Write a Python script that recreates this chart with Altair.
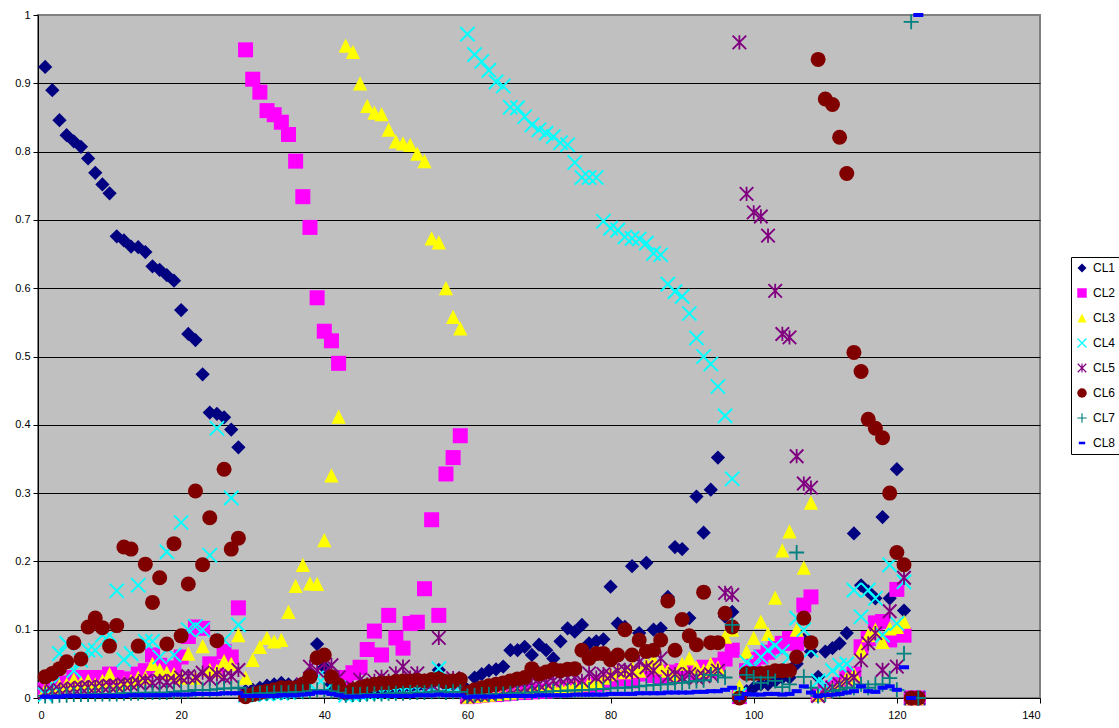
import altair as alt
import pandas as pd

# Observation index (x axis)
x_index = list(range(1, 124))

series_names = ["CL1", "CL2", "CL3", "CL4", "CL5", "CL6", "CL7", "CL8"]
series_colors = ["#000080", "#FF00FF", "#FFFF00", "#00FFFF",
                 "#800080", "#800000", "#008080", "#0000FF"]

# Membership values per cluster, one entry per observation
cl1 = [0.924, 0.890, 0.846, 0.824, 0.815, 0.807, 0.790, 0.769, 0.752, 0.739,
       0.676, 0.670, 0.661, 0.660, 0.653, 0.632, 0.627, 0.619, 0.611, 0.568,
       0.533, 0.524, 0.474, 0.418, 0.416, 0.411, 0.393, 0.367, 0.010, 0.012,
       0.015, 0.018, 0.020, 0.022, 0.020, 0.018, 0.022, 0.035, 0.079, 0.045,
       0.020, 0.012, 0.005, 0.008, 0.010, 0.012, 0.012, 0.013, 0.014, 0.015,
       0.016, 0.016, 0.017, 0.018, 0.020, 0.041, 0.018, 0.020, 0.022, 0.012,
       0.030, 0.035, 0.040, 0.042, 0.046, 0.070, 0.070, 0.075, 0.063, 0.078,
       0.070, 0.058, 0.083, 0.102, 0.097, 0.107, 0.080, 0.083, 0.086, 0.163,
       0.109, 0.104, 0.193, 0.095, 0.198, 0.100, 0.102, 0.148, 0.221, 0.218,
       0.117, 0.295, 0.242, 0.305, 0.352, 0.119, 0.126, 0.003, 0.010, 0.015,
       0.020, 0.020, 0.025, 0.030, 0.030, 0.050, 0.085, 0.068, 0.031, 0.068,
       0.073, 0.080, 0.095, 0.241, 0.165, 0.156, 0.146, 0.265, 0.146, 0.335,
       0.128, 0.000, 0.000]

cl2 = [0.012, 0.015, 0.020, 0.022, 0.030, 0.025, 0.030, 0.028, 0.030, 0.035,
       0.030, 0.025, 0.028, 0.035, 0.040, 0.063, 0.048, 0.040, 0.044, 0.060,
       0.090, 0.104, 0.102, 0.050, 0.045, 0.068, 0.060, 0.132, 0.949, 0.906,
       0.887, 0.860, 0.854, 0.843, 0.825, 0.786, 0.734, 0.689, 0.586, 0.537,
       0.523, 0.490, 0.030, 0.037, 0.045, 0.071, 0.098, 0.063, 0.121, 0.088,
       0.073, 0.109, 0.111, 0.160, 0.261, 0.121, 0.328, 0.352, 0.384, 0.002,
       0.003, 0.004, 0.005, 0.005, 0.006, 0.007, 0.008, 0.008, 0.009, 0.010,
       0.010, 0.012, 0.012, 0.014, 0.015, 0.016, 0.018, 0.020, 0.022, 0.025,
       0.028, 0.030, 0.025, 0.035, 0.036, 0.033, 0.030, 0.038, 0.035, 0.040,
       0.040, 0.035, 0.045, 0.040, 0.048, 0.057, 0.070, 0.002, 0.040, 0.056,
       0.060, 0.067, 0.075, 0.080, 0.087, 0.080, 0.136, 0.148, 0.005, 0.010,
       0.015, 0.020, 0.030, 0.035, 0.075, 0.087, 0.110, 0.112, 0.085, 0.159,
       0.092, 0.000, 0.000]

cl3 = [0.012, 0.015, 0.018, 0.020, 0.027, 0.022, 0.025, 0.020, 0.025, 0.035,
       0.020, 0.022, 0.025, 0.030, 0.030, 0.050, 0.041, 0.037, 0.035, 0.030,
       0.065, 0.030, 0.076, 0.041, 0.040, 0.054, 0.050, 0.092, 0.030, 0.056,
       0.075, 0.088, 0.083, 0.085, 0.126, 0.164, 0.195, 0.168, 0.167, 0.231,
       0.326, 0.412, 0.955, 0.946, 0.900, 0.867, 0.857, 0.855, 0.832, 0.815,
       0.812, 0.810, 0.797, 0.786, 0.673, 0.667, 0.600, 0.558, 0.541, 0.002,
       0.003, 0.004, 0.005, 0.006, 0.007, 0.008, 0.010, 0.010, 0.012, 0.012,
       0.013, 0.014, 0.015, 0.016, 0.018, 0.020, 0.022, 0.025, 0.030, 0.035,
       0.040, 0.038, 0.045, 0.040, 0.050, 0.055, 0.045, 0.040, 0.035, 0.050,
       0.058, 0.045, 0.040, 0.050, 0.045, 0.090, 0.100, 0.017, 0.068, 0.088,
       0.112, 0.094, 0.147, 0.216, 0.244, 0.100, 0.191, 0.286, 0.005, 0.010,
       0.015, 0.020, 0.030, 0.035, 0.070, 0.092, 0.100, 0.082, 0.102, 0.104,
       0.112, 0.000, 0.000]

cl4 = [0.005, 0.020, 0.065, 0.080, 0.040, 0.055, 0.070, 0.070, 0.092, 0.092,
       0.157, 0.056, 0.065, 0.165, 0.083, 0.083, 0.060, 0.214, 0.063, 0.257,
       0.100, 0.105, 0.100, 0.209, 0.395, 0.085, 0.293, 0.107, 0.004, 0.005,
       0.006, 0.006, 0.007, 0.007, 0.008, 0.010, 0.012, 0.020, 0.030, 0.030,
       0.020, 0.015, 0.004, 0.005, 0.006, 0.007, 0.008, 0.008, 0.009, 0.010,
       0.010, 0.011, 0.012, 0.012, 0.015, 0.043, 0.015, 0.018, 0.020, 0.972,
       0.942, 0.932, 0.919, 0.902, 0.896, 0.865, 0.864, 0.851, 0.839, 0.832,
       0.827, 0.822, 0.813, 0.810, 0.784, 0.762, 0.762, 0.762, 0.698, 0.688,
       0.685, 0.675, 0.673, 0.672, 0.666, 0.651, 0.649, 0.606, 0.595, 0.588,
       0.563, 0.527, 0.500, 0.489, 0.456, 0.413, 0.321, 0.005, 0.052, 0.045,
       0.060, 0.070, 0.077, 0.068, 0.060, 0.117, 0.100, 0.070, 0.025, 0.020,
       0.040, 0.048, 0.050, 0.158, 0.119, 0.158, 0.146, 0.092, 0.195, 0.109,
       0.170, 0.000, 0.000]

cl5 = [0.008, 0.010, 0.012, 0.013, 0.014, 0.015, 0.016, 0.016, 0.017, 0.018,
       0.018, 0.020, 0.020, 0.022, 0.025, 0.022, 0.025, 0.023, 0.025, 0.030,
       0.032, 0.030, 0.037, 0.028, 0.035, 0.030, 0.032, 0.041, 0.005, 0.006,
       0.008, 0.009, 0.010, 0.010, 0.012, 0.015, 0.020, 0.046, 0.040, 0.050,
       0.048, 0.030, 0.008, 0.015, 0.027, 0.020, 0.025, 0.031, 0.025, 0.036,
       0.046, 0.030, 0.036, 0.025, 0.020, 0.088, 0.025, 0.029, 0.022, 0.002,
       0.004, 0.005, 0.006, 0.008, 0.010, 0.012, 0.014, 0.015, 0.018, 0.020,
       0.022, 0.025, 0.028, 0.030, 0.030, 0.025, 0.036, 0.030, 0.035, 0.033,
       0.040, 0.041, 0.038, 0.053, 0.045, 0.040, 0.058, 0.031, 0.035, 0.030,
       0.035, 0.030, 0.032, 0.035, 0.040, 0.154, 0.151, 0.960, 0.738, 0.711,
       0.705, 0.677, 0.596, 0.533, 0.528, 0.354, 0.314, 0.308, 0.003, 0.010,
       0.015, 0.020, 0.025, 0.030, 0.055, 0.080, 0.095, 0.041, 0.127, 0.046,
       0.176, 0.000, 0.000]

cl6 = [0.031, 0.036, 0.043, 0.053, 0.081, 0.057, 0.104, 0.117, 0.103, 0.076,
       0.106, 0.221, 0.218, 0.076, 0.196, 0.140, 0.176, 0.079, 0.226, 0.091,
       0.167, 0.303, 0.195, 0.264, 0.084, 0.335, 0.218, 0.234, 0.002, 0.005,
       0.008, 0.010, 0.012, 0.015, 0.015, 0.015, 0.020, 0.031, 0.059, 0.063,
       0.031, 0.019, 0.008, 0.012, 0.015, 0.018, 0.020, 0.022, 0.022, 0.024,
       0.025, 0.025, 0.026, 0.025, 0.027, 0.028, 0.024, 0.025, 0.027, 0.008,
       0.012, 0.015, 0.018, 0.020, 0.022, 0.025, 0.028, 0.030, 0.043, 0.035,
       0.038, 0.042, 0.040, 0.042, 0.043, 0.070, 0.058, 0.065, 0.065, 0.056,
       0.063, 0.100, 0.063, 0.085, 0.068, 0.070, 0.085, 0.142, 0.070, 0.115,
       0.091, 0.078, 0.155, 0.081, 0.081, 0.124, 0.104, 0.000, 0.036, 0.036,
       0.036, 0.037, 0.040, 0.040, 0.040, 0.060, 0.117, 0.081, 0.935, 0.877,
       0.869, 0.821, 0.768, 0.506, 0.478, 0.408, 0.395, 0.381, 0.300, 0.213,
       0.195, 0.000, 0.000]

cl7 = [0.003, 0.003, 0.004, 0.004, 0.005, 0.005, 0.005, 0.006, 0.006, 0.006,
       0.006, 0.007, 0.007, 0.007, 0.008, 0.008, 0.008, 0.008, 0.009, 0.010,
       0.010, 0.012, 0.012, 0.012, 0.013, 0.014, 0.014, 0.015, 0.006, 0.006,
       0.007, 0.007, 0.008, 0.008, 0.008, 0.009, 0.009, 0.010, 0.012, 0.012,
       0.010, 0.008, 0.004, 0.005, 0.005, 0.006, 0.006, 0.006, 0.007, 0.007,
       0.007, 0.008, 0.008, 0.008, 0.009, 0.010, 0.008, 0.009, 0.009, 0.003,
       0.004, 0.005, 0.005, 0.006, 0.006, 0.007, 0.007, 0.008, 0.008, 0.009,
       0.009, 0.010, 0.010, 0.011, 0.011, 0.012, 0.012, 0.013, 0.013, 0.014,
       0.015, 0.015, 0.016, 0.017, 0.018, 0.019, 0.020, 0.020, 0.022, 0.022,
       0.024, 0.025, 0.026, 0.034, 0.033, 0.030, 0.107, 0.005, 0.034, 0.030,
       0.022, 0.030, 0.025, 0.016, 0.020, 0.213, 0.031, 0.015, 0.003, 0.005,
       0.010, 0.012, 0.015, 0.015, 0.020, 0.015, 0.020, 0.020, 0.029, 0.012,
       0.065, 0.990, 0.000]

cl8 = [0.002, 0.002, 0.002, 0.003, 0.003, 0.003, 0.003, 0.003, 0.003, 0.003,
       0.003, 0.003, 0.004, 0.004, 0.004, 0.004, 0.004, 0.004, 0.005, 0.005,
       0.005, 0.006, 0.006, 0.006, 0.006, 0.007, 0.007, 0.007, 0.003, 0.003,
       0.003, 0.003, 0.003, 0.004, 0.004, 0.004, 0.005, 0.006, 0.008, 0.008,
       0.006, 0.004, 0.002, 0.002, 0.002, 0.003, 0.003, 0.003, 0.003, 0.003,
       0.003, 0.003, 0.004, 0.004, 0.004, 0.005, 0.004, 0.004, 0.004, 0.001,
       0.002, 0.002, 0.002, 0.002, 0.003, 0.003, 0.003, 0.003, 0.003, 0.004,
       0.004, 0.004, 0.004, 0.004, 0.005, 0.005, 0.005, 0.005, 0.005, 0.006,
       0.006, 0.006, 0.006, 0.007, 0.007, 0.007, 0.007, 0.008, 0.008, 0.008,
       0.008, 0.009, 0.009, 0.010, 0.010, 0.012, 0.015, 0.000, 0.006, 0.005,
       0.005, 0.006, 0.006, 0.005, 0.006, 0.010, 0.017, 0.008, 0.003, 0.004,
       0.005, 0.006, 0.008, 0.010, 0.017, 0.010, 0.009, 0.015, 0.017, 0.012,
       0.045, 0.000, 1.000]

all_series = [cl1, cl2, cl3, cl4, cl5, cl6, cl7, cl8]
for vals in all_series:
    assert len(vals) == len(x_index), len(vals)

# Marker outlines in a [-1, 1] box (Vega scales them by sqrt(size) / 2)
x_cross = ("M-0.858,-1.042L1.042,0.858L0.858,1.042L-1.042,-0.858Z"
           "M-0.858,1.042L-1.042,0.858L0.858,-1.042L1.042,-0.858Z")
asterisk = ("M-0.81,-0.99L0.99,0.81L0.81,0.99L-0.99,-0.81Z"
            "M-0.81,0.99L-0.99,0.81L0.81,-0.99L0.99,-0.81Z"
            "M-0.12,-0.95L0.12,-0.95L0.12,0.95L-0.12,0.95Z")
plus = ("M-1,-0.12L1,-0.12L1,0.12L-1,0.12Z"
        "M-0.12,-1L0.12,-1L0.12,1L-0.12,1Z")
series_shapes = [
    "M0,-0.95L0.95,0L0,0.95L-0.95,0Z",          # diamond
    "M-1,-1L1,-1L1,1L-1,1Z",                     # square
    "M0,-0.95L0.95,0.95L-0.95,0.95Z",            # triangle
    x_cross,                                     # x
    asterisk,                                    # star
    "circle",                                    # circle
    plus,                                        # plus
    "M-0.67,-0.27L0.67,-0.27L0.67,0.27L-0.67,0.27Z",  # dash
]

rows = []
for name, vals in zip(series_names, all_series):
    for xi, v in zip(x_index, vals):
        rows.append({"x": xi, "value": v, "series": name})
df = pd.DataFrame(rows)

font = "Liberation Sans"

legend = alt.Legend(
    title=None,
    orient="none",
    legendX=1033,
    legendY=242,
    strokeColor="#000000",
    fillColor="#FFFFFF",
    padding=5,
    rowPadding=13,
    symbolSize=90,
    symbolStrokeWidth=0,
    symbolOpacity=1,
    labelFont=font,
    labelFontSize=12,
    labelColor="#000000",
    labelOffset=5,
)

y_ticks = [round(i * 0.1, 1) for i in range(11)]

chart = alt.Chart(df).mark_point(filled=True, opacity=1, size=225).encode(
    x=alt.X(
        "x:Q",
        scale=alt.Scale(domain=[0, 140], nice=False, zero=False),
        axis=alt.Axis(
            values=list(range(0, 141, 20)),
            title=None,
            grid=False,
            domainColor="#000000",
            tickColor="#000000",
            tickSize=5,
            labelFont=font,
            labelFontSize=11,
            labelColor="#000000",
            labelPadding=6,
        ),
    ),
    y=alt.Y(
        "value:Q",
        scale=alt.Scale(domain=[0, 1], nice=False),
        axis=alt.Axis(
            values=y_ticks,
            format=".1~f",
            title=None,
            grid=True,
            gridColor={"condition": {"test": "datum.value >= 1", "value": "#808080"},
                       "value": "#000000"},
            gridWidth=1,
            domainColor="#000000",
            tickColor="#000000",
            tickSize=5,
            labelFont=font,
            labelFontSize=11,
            labelColor="#000000",
            labelPadding=3,
        ),
    ),
    color=alt.Color("series:N",
                    scale=alt.Scale(domain=series_names, range=series_colors),
                    legend=legend),
    shape=alt.Shape("series:N",
                    scale=alt.Scale(domain=series_names, range=series_shapes),
                    legend=legend),
).properties(
    width=1002,
    height=683,
    autosize=alt.AutoSizeParams(type="none"),
    padding={"left": 38, "top": 15, "right": 79, "bottom": 30},
    background="#FFFFFF",
).configure_view(
    fill="#C0C0C0",
    stroke="#808080",
    strokeWidth=2,
)

chart.save("out.html", embed_options={"renderer": "svg", "actions": False})
